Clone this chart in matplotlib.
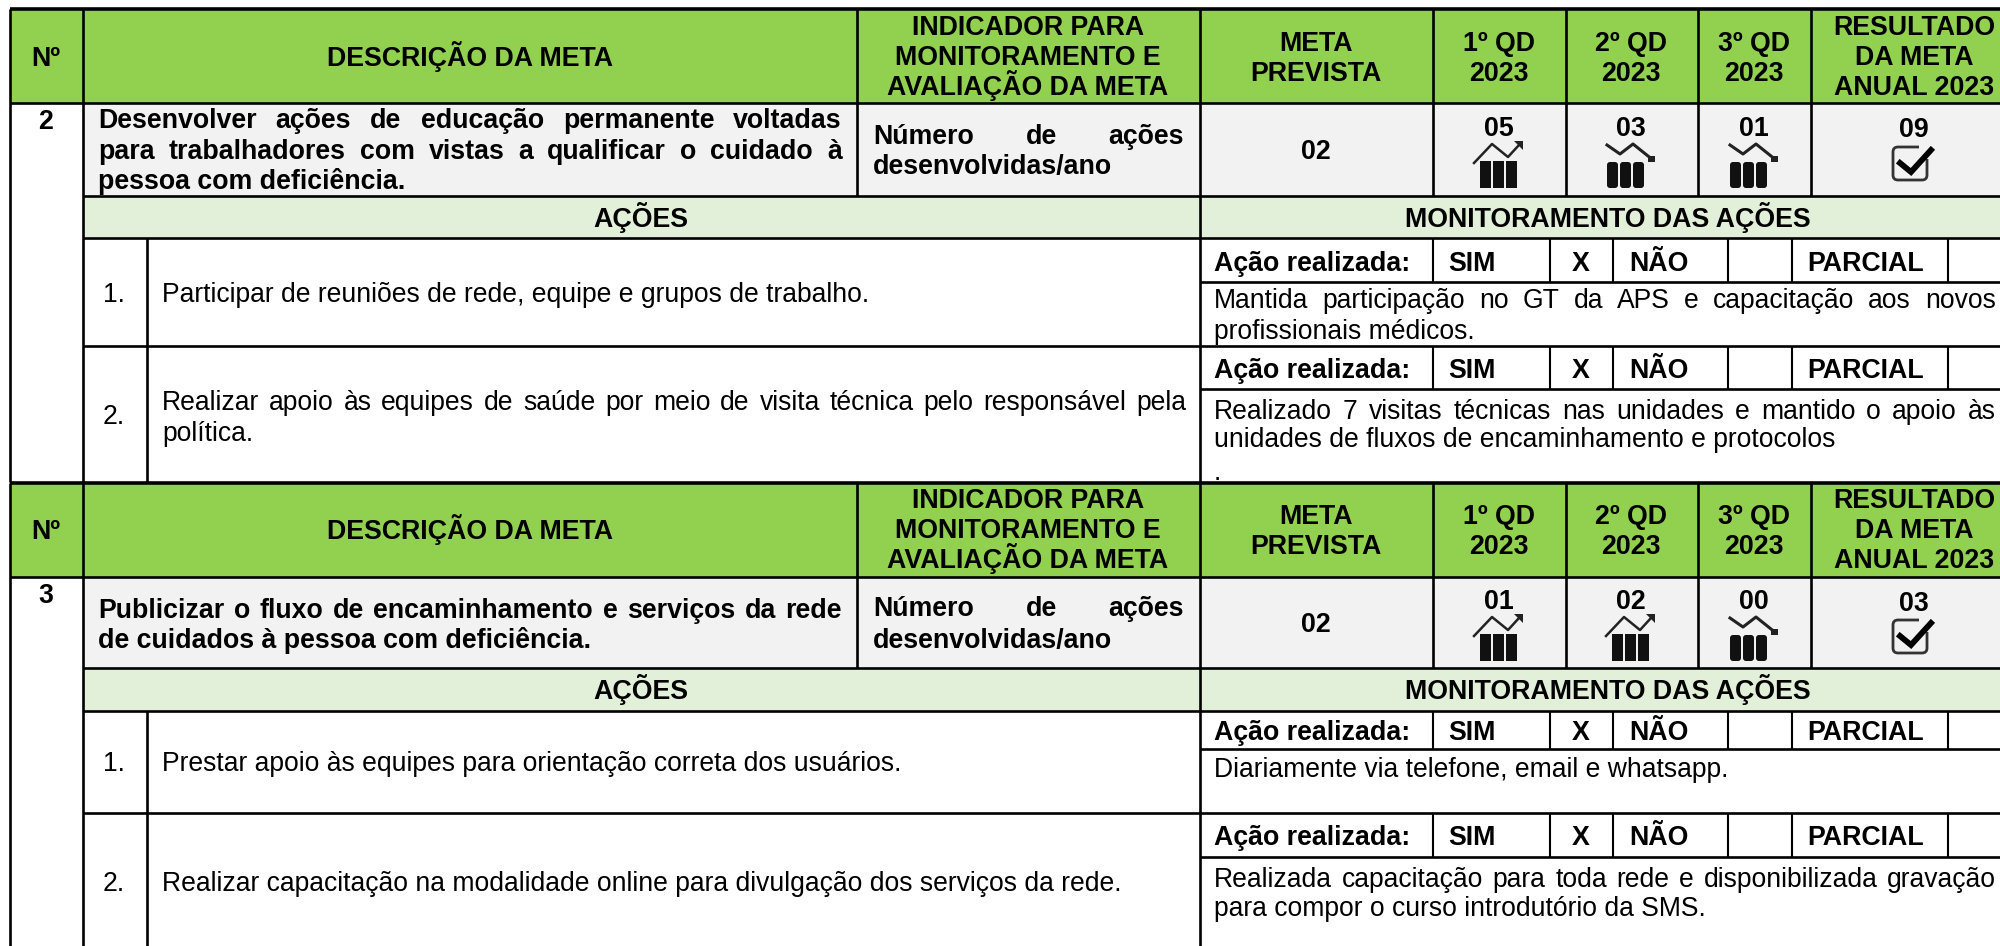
import matplotlib
matplotlib.use("Agg")
import matplotlib.pyplot as plt
from matplotlib.patches import Rectangle, FancyBboxPatch, Polygon

plt.rcParams['font.family'] = ['Liberation Sans', 'DejaVu Sans']

# ---------- content ----------
header_no = "Nº"
header_desc = "DESCRIÇÃO DA META"
header_ind = ["INDICADOR PARA", "MONITORAMENTO E", "AVALIAÇÃO DA META"]
header_meta = ["META", "PREVISTA"]
header_q = [["1º QD", "2023"], ["2º QD", "2023"], ["3º QD", "2023"]]
header_res = ["RESULTADO", "DA META", "ANUAL 2023"]
indicator = ["Número de ações", "desenvolvidas/ano"]

goal_numbers = ["2", "3"]
goal_desc = [
    ["Desenvolver ações de educação permanente voltadas",
     "para trabalhadores com vistas a qualificar o cuidado à",
     "pessoa com deficiência."],
    ["Publicizar o fluxo de encaminhamento e serviços da rede",
     "de cuidados à pessoa com deficiência."],
]
goal_target = ["02", "02"]
q_values = [["05", "03", "01"], ["01", "02", "00"]]
q_trend = [["up", "down", "down"], ["up", "up", "down"]]
annual_result = ["09", "03"]

action_text = [
    [["Participar de reuniões de rede, equipe e grupos de trabalho."],
     ["Realizar apoio às equipes de saúde por meio de visita técnica pelo responsável pela",
      "política."]],
    [["Prestar apoio às equipes para orientação correta dos usuários."],
     ["Realizar capacitação na modalidade online para divulgação dos serviços da rede."]],
]
monitor_text = [
    [["Mantida participação no GT da APS e capacitação aos novos", "profissionais médicos."],
     ["Realizado 7 visitas técnicas nas unidades e mantido o apoio às",
      "unidades de fluxos de encaminhamento e protocolos", "."]],
    [["Diariamente via telefone, email e whatsapp."],
     ["Realizada capacitação para toda rede e disponibilizada gravação",
      "para compor o curso introdutório da SMS."]],
]

# ---------- layout (pixels) ----------
W, H = 2000, 946
GREEN, GRAY, BAND = "#92D050", "#F2F2F2", "#E2EFD9"
X_L, X_N, X_I, X_D, X_M = 9.5, 83, 147, 857, 1200
X_Q = [1433, 1566, 1698, 1811]
X_SUB = [1433, 1550, 1613, 1728, 1792, 1948]
FS_B, FS_T = 19.3, 19.1

layouts = [
    dict(top=9, hb=103, gb=196, ab=238, bottom=482,
         rows=[(282, 346), (389, 482)],
         ac_y=[261, 368],
         mon_y=[[298.5, 329], [409, 437, 470]],
         act_y=[[292], [400.5, 431]],
         num_y=[292, 414],
         no_y=119, desc_y=[118.5, 149, 179.5], ind_y=[134.5, 164.5],
         tgt_y=149, q_y=126, res_y=127.5, icon_b=188, check_t=145, band_y=217, off=0),
    dict(top=483, hb=577, gb=668, ab=711, bottom=946,
         rows=[(749, 813), (857, 946)],
         ac_y=[730.5, 835.5],
         mon_y=[[767.5], [877, 906]],
         act_y=[[761.5], [881.5]],
         num_y=[761.5, 881.5],
         no_y=593.5, desc_y=[608, 638], ind_y=[606, 638],
         tgt_y=622.5, q_y=599, res_y=601, icon_b=661, check_t=618, band_y=689, off=473),
]

fig = plt.figure(figsize=(W / 100, H / 100), dpi=100, facecolor="white")
ax = fig.add_axes([0, 0, 1, 1])
ax.set_xlim(0, W)
ax.set_ylim(H, 0)
ax.axis("off")
renderer = fig.canvas.get_renderer()


def put(x, yc, s, fs=FS_T, bold=False, ha="left"):
    px = fs * 100 / 72
    return ax.text(x, yc + 0.36 * px, s, fontsize=fs, ha=ha, va="baseline",
                   fontweight="bold" if bold else "normal", color="black", zorder=5)


def width(s, fs, bold):
    t = ax.text(0, 0, s, fontsize=fs, fontweight="bold" if bold else "normal")
    w = t.get_window_extent(renderer).width
    t.remove()
    return w


def justified(x0, x1, yc, s, fs=FS_T, bold=False):
    words = s.split(" ")
    ws = [width(w, fs, bold) for w in words]
    gap = (x1 - x0 - sum(ws)) / (len(words) - 1)
    x = x0
    for w, wd in zip(words, ws):
        put(x, yc, w, fs, bold)
        x += wd + gap


def hline(y, x0, x1=W, lw=1.9):
    ax.plot([x0, x1], [y, y], color="black", lw=lw, solid_capstyle="butt", zorder=4)


def vline(x, y0, y1, lw=1.9):
    ax.plot([x, x], [y0, y1], color="black", lw=lw, solid_capstyle="butt", zorder=4)


def fill(x0, y0, x1, y1, c):
    ax.add_patch(Rectangle((x0, y0), x1 - x0, y1 - y0, fc=c, ec="none", zorder=1))


def icon_bars(cx, bottom, up):
    c = "#111111"
    xs = [-19, -6, 7] if up else [-24, -11, 2]
    for dx in xs:
        w = 11
        if up:
            ax.add_patch(Rectangle((cx + dx, bottom - 27), w, 27, fc=c, ec="none", zorder=5))
        else:
            ax.add_patch(FancyBboxPatch((cx + dx + 1, bottom - 25), w - 2, 24,
                                        boxstyle="round,pad=1,rounding_size=3",
                                        fc=c, ec="none", zorder=5))
    if up:
        ax.plot([cx - 25, cx - 7, cx + 9, cx + 20], [bottom - 25, bottom - 44, bottom - 31, bottom - 43],
                color="#222222", lw=1.8, zorder=5)
        ax.add_patch(Polygon([[cx + 15, bottom - 47], [cx + 24, bottom - 47], [cx + 24, bottom - 38]],
                             fc="#222222", ec="none", zorder=5))
    else:
        ax.plot([cx - 24, cx - 11, cx + 2, cx + 22], [bottom - 43, bottom - 34, bottom - 44, bottom - 28],
                color="#222222", lw=2.2, zorder=5)
        ax.add_patch(Rectangle((cx + 17, bottom - 32), 7, 6, fc="#222222", ec="none", zorder=5))


def icon_check(cx, top):
    ax.add_patch(FancyBboxPatch((cx - 17, top + 2), 34, 33, boxstyle="round,pad=0,rounding_size=5",
                                fc="none", ec="#333333", lw=2.0, zorder=5))
    ax.add_patch(Rectangle((cx + 9, top - 1), 14, 15, fc=GRAY, ec="none", zorder=5))
    ax.plot([cx - 10, cx + 1, cx + 21], [top + 18, top + 27, top + 5], color="black", lw=4.2,
            solid_joinstyle="miter", zorder=6)


for g, L in enumerate(layouts):
    top, hb, gb, ab, bottom = L["top"], L["hb"], L["gb"], L["ab"], L["bottom"]
    off = L["off"]
    # fills
    fill(X_L, top, W, hb, GREEN)
    fill(X_N, hb, W, gb, GRAY)
    fill(X_N, gb, W, ab, BAND)
    # rules
    hline(top, X_L, lw=2.6)
    hline(hb, X_L)
    hline(gb, X_N)
    hline(ab, X_N)
    vline(X_L, top, bottom)
    vline(X_N, top, bottom)
    vline(X_I, ab, bottom)
    vline(X_D, top, gb)
    vline(X_M, top, bottom)
    for x in X_Q:
        vline(x, top, gb)
    # header
    put(46, 56 + off, header_no, FS_B, True, "center")
    put(470, 56 + off, header_desc, FS_B, True, "center")
    for yc, s in zip((25.5, 55.5, 85.5), header_ind):
        put(1028, yc + off, s, FS_B, True, "center")
    for yc, s in zip((41.5, 71.5), header_meta):
        put(1316, yc + off, s, FS_B, True, "center")
    for cx, lines in zip((1499, 1631, 1754), header_q):
        for yc, s in zip((41.5, 71.5), lines):
            put(cx, yc + off, s, FS_B, True, "center")
    for yc, s in zip((25.5, 55.5, 85.5), header_res):
        put(1914, yc + off, s, FS_B, True, "center")
    # goal row
    put(46, L["no_y"], goal_numbers[g], FS_B, True, "center")
    lines = goal_desc[g]
    for i, (yc, s) in enumerate(zip(L["desc_y"], lines)):
        if i < len(lines) - 1:
            justified(98, 842, yc, s, FS_B, True)
        else:
            put(98, yc, s, FS_B, True)
    justified(873, 1184, L["ind_y"][0], indicator[0], FS_B, True)
    put(873, L["ind_y"][1], indicator[1], FS_B, True)
    put(1316, L["tgt_y"], goal_target[g], FS_B, True, "center")
    for cx, v, tr in zip((1499, 1631, 1754), q_values[g], q_trend[g]):
        put(cx, L["q_y"], v, FS_B, True, "center")
        icon_bars(cx, L["icon_b"], tr == "up")
    put(1914, L["res_y"], annual_result[g], FS_B, True, "center")
    icon_check(1910, L["check_t"])
    # band
    put(641, L["band_y"], "AÇÕES", FS_B, True, "center")
    put(1608, L["band_y"], "MONITORAMENTO DAS AÇÕES", FS_B, True, "center")
    # actions
    for i in range(2):
        h_b, a_b = L["rows"][i]
        a_t = ab if i == 0 else L["rows"][0][1]
        hline(h_b, X_M)
        if a_b < bottom:
            hline(a_b, X_N)
        for x in X_SUB:
            vline(x, a_t, h_b, lw=1.5)
        yc = L["ac_y"][i]
        put(1214, yc, "Ação realizada:", FS_B, True)
        put(1448, yc, "SIM", FS_B, True)
        put(1581, yc, "X", FS_B, True, "center")
        put(1629, yc, "NÃO", FS_B, True)
        put(1807, yc, "PARCIAL", FS_B, True)
        put(103, L["num_y"][i], f"{i + 1}.", FS_T)
        al = action_text[g][i]
        for j, (y, s) in enumerate(zip(L["act_y"][i], al)):
            if j < len(al) - 1:
                justified(162, 1186, y, s, FS_T)
            else:
                put(162, y, s, FS_T)
        ml = monitor_text[g][i]
        for j, (y, s) in enumerate(zip(L["mon_y"][i], ml)):
            if j == 0 and len(ml) > 1:
                justified(1214, 1996, y, s, FS_T)
            else:
                put(1214, y, s, FS_T)

fig.savefig("out.png", dpi=100, facecolor="white")
